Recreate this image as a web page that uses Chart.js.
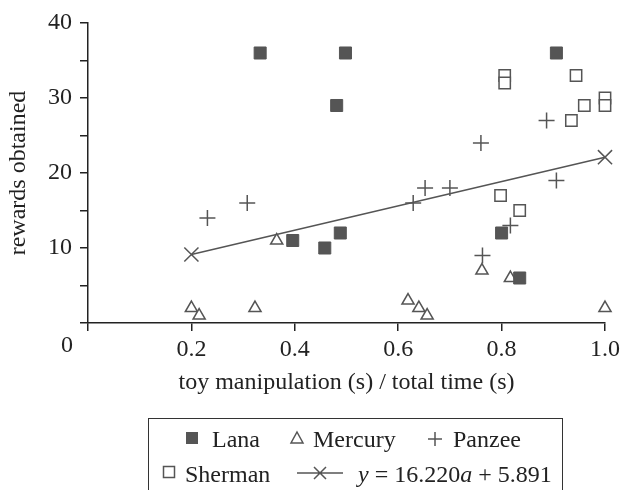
<!DOCTYPE html>
<html>
<head>
<meta charset="utf-8">
<script src="https://cdn.jsdelivr.net/npm/chart.js@4"></script>
<style>
  body { margin: 0; background: #fff; }
  #wrap { position: relative; width: 624px; height: 490px; overflow: hidden; }
  .lg { position: absolute; font-family: "Liberation Serif", serif; font-size: 24px; line-height: 28px; color: #222; white-space: nowrap; }
  #legendBox { position: absolute; left: 148px; top: 418px; width: 413px; height: 100px; border: 1.5px solid #333; }
</style>
</head>
<body>
<div id="wrap">
  <canvas id="ScatterChart" width="624" height="490"></canvas>
  <div id="legendBox"></div>
  <svg style="position:absolute;left:0;top:0" width="624" height="490">
    <rect x="186" y="432" width="12" height="12" fill="#555"/>
    <polygon points="297,432 303,443 291,443" fill="none" stroke="#555" stroke-width="1.5"/>
    <path d="M428 439 H442 M435 432 V446" stroke="#555" stroke-width="1.5"/>
    <rect x="163.5" y="466.5" width="11" height="11" fill="#fff" stroke="#555" stroke-width="1.5"/>
    <path d="M297 473 H343 M314 467 L326 479 M326 467 L314 479" stroke="#555" stroke-width="1.5"/>
  </svg>
  <span class="lg" style="left:212px;top:425px">Lana</span>
  <span class="lg" style="left:313px;top:425px">Mercury</span>
  <span class="lg" style="left:453px;top:425px">Panzee</span>
  <span class="lg" style="left:185px;top:460px">Sherman</span>
  <span class="lg" style="left:358px;top:460px"><i>y</i> = 16.220<i>a</i> + 5.891</span>
</div>
<script>
// data
var lanaX = [0.333, 0.498, 0.481, 0.906, 0.396, 0.458, 0.488, 0.800, 0.835];
var lanaY = [36, 36, 29, 36, 11, 10, 12, 12, 6];
var mercuryX = [0.200, 0.215, 0.323, 0.365, 0.619, 0.640, 0.656, 0.762, 0.817, 1.000];
var mercuryY = [2, 1, 2, 11, 3, 2, 1, 7, 6, 2];
var panzeeX = [0.231, 0.308, 0.629, 0.652, 0.700, 0.760, 0.763, 0.817, 0.887, 0.906];
var panzeeY = [14, 16, 16, 18, 18, 24, 9, 13, 27, 19];
var shermanX = [0.806, 0.806, 0.944, 0.960, 1.000, 1.000, 0.935, 0.798, 0.835];
var shermanY = [33, 32, 33, 29, 30, 29, 27, 17, 15];
var fitSlope = 16.220, fitIntercept = 5.891;
var fitX = [0.2, 1.0];

function pts(xs, ys) { return xs.map(function (x, i) { return {x: x, y: ys[i]}; }); }

var grey = '#555';
var axisCol = '#222';
var serif = "'Liberation Serif', serif";

// the shared origin label sits left of the axis corner
var originLabel = {
  id: 'originLabel',
  afterDraw: function (chart) {
    var c = chart.ctx, xs = chart.scales.x;
    c.save();
    c.font = '24px ' + serif;
    c.fillStyle = axisCol;
    c.textAlign = 'center';
    c.textBaseline = 'middle';
    c.fillText('0', xs.getPixelForValue(0) - 21, 346);
    c.restore();
  }
};

var ctx = document.getElementById('ScatterChart').getContext('2d');
var myChart = new Chart(ctx, {
  type: 'scatter',
  data: {
    datasets: [{
      label: 'Lana',
      data: pts(lanaX, lanaY),
      pointStyle: 'rect', pointRadius: 8.5, borderWidth: 1,
      backgroundColor: grey, borderColor: grey, clip: false
    }, {
      label: 'Mercury',
      data: pts(mercuryX, mercuryY),
      pointStyle: 'triangle', pointRadius: 7, borderWidth: 1.5,
      backgroundColor: '#fff', borderColor: grey, clip: false
    }, {
      label: 'Panzee',
      data: pts(panzeeX, panzeeY),
      pointStyle: 'cross', pointRadius: 8, borderWidth: 1.5,
      borderColor: grey, clip: false
    }, {
      label: 'Sherman',
      data: pts(shermanX, shermanY),
      pointStyle: 'rect', pointRadius: 8, borderWidth: 1.5,
      backgroundColor: '#fff', borderColor: grey, clip: false
    }, {
      type: 'line',
      label: 'fit',
      data: fitX.map(function (x) { return {x: x, y: fitSlope * x + fitIntercept}; }),
      showLine: true, fill: false,
      pointStyle: 'crossRot', pointRadius: 10, borderWidth: 1.5,
      borderColor: grey, backgroundColor: grey, clip: false
    }]
  },
  options: {
    responsive: false,
    animation: false,
    layout: { padding: { left: 0, right: 16, top: 23, bottom: 91 } },
    plugins: { legend: { display: false }, tooltip: { enabled: false } },
    scales: {
      x: {
        type: 'linear', min: 0, max: 1,
        afterFit: function (s) { s.height = 76; },
        border: { color: axisCol, width: 1.5 },
        grid: { drawOnChartArea: false, tickLength: 8, color: axisCol, lineWidth: 1.5 },
        ticks: {
          stepSize: 0.2, padding: 4, color: axisCol, maxRotation: 0,
          font: { family: serif, size: 24 },
          callback: function (v) { return v === 0 ? '' : v.toFixed(1); }
        },
        title: {
          display: true, text: 'toy manipulation (s) / total time (s)',
          color: axisCol, font: { family: serif, size: 24 },
          padding: { top: 0, bottom: 2 }
        }
      },
      y: {
        min: 0, max: 40,
        afterFit: function (s) { s.width = 88; },
        border: { color: axisCol, width: 1.5 },
        grid: { drawOnChartArea: false, tickLength: 8, color: axisCol, lineWidth: 1.5 },
        ticks: {
          stepSize: 5, padding: 8, color: axisCol, autoSkip: false,
          font: { family: serif, size: 24 },
          callback: function (v) { return (v % 10 === 0 && v !== 0) ? v : ''; }
        },
        title: {
          display: true, text: 'rewards obtained',
          color: axisCol, font: { family: serif, size: 24 },
          padding: { top: 4, bottom: 0 }
        }
      }
    }
  },
  plugins: [originLabel]
});
</script>
</body>
</html>
